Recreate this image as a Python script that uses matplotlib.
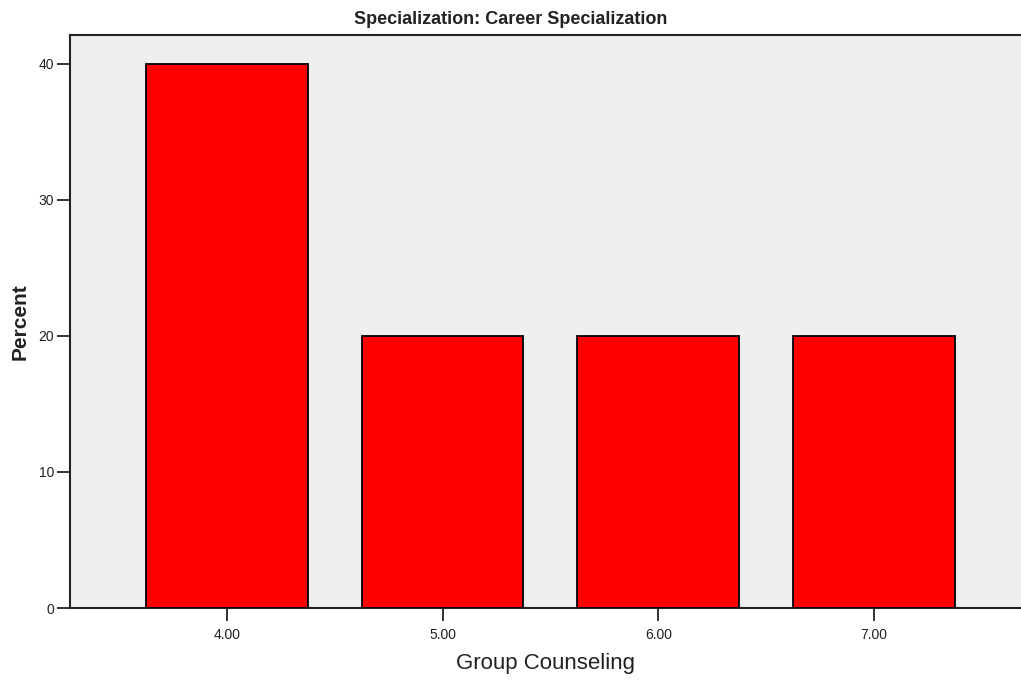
import matplotlib
matplotlib.use('Agg')
import matplotlib.pyplot as plt
from matplotlib import font_manager

# data
categories = ['4.00', '5.00', '6.00', '7.00']
percent = [40, 20, 20, 20]
yticks = [0, 10, 20, 30, 40]

names = {f.name for f in font_manager.fontManager.ttflist}
narrow = 'Liberation Sans Narrow' if 'Liberation Sans Narrow' in names else 'Liberation Sans'
plt.rcParams['font.family'] = [narrow, 'DejaVu Sans']

fig = plt.figure(figsize=(10.21, 6.85), dpi=100)
ax = fig.add_axes([70/1021, 1-608/685, 1-70/1021, (608-35)/685])
ax.set_facecolor('#efefef')

x = range(len(categories))
ax.bar(x, percent, width=0.75, color='#ff0000', edgecolor='black', linewidth=1.3, zorder=3)

ax.set_xlim(-0.726, 3.68)
ax.set_ylim(0, 42.13)
ax.set_xticks(list(x))
ax.set_xticklabels(categories, fontsize=10)
ax.set_yticks(yticks)
ax.set_yticklabels([str(v) for v in yticks], fontsize=10)
ax.tick_params(axis='both', direction='out', length=9.5, width=1.3, color='#222222', labelcolor='#222222')
ax.tick_params(axis='x', pad=5)
ax.tick_params(axis='y', pad=2)

ax.spines['right'].set_visible(False)
for s in ['left', 'bottom', 'top']:
    ax.spines[s].set_linewidth(1.5)
    ax.spines[s].set_color('#222222')

ax.set_xlabel('Group Counseling', fontsize=16, labelpad=8, color='#222222')
ax.set_ylabel('Percent', fontsize=15, fontweight='bold', labelpad=6, color='#222222')
fig.text(0.5, 1-20/685, 'Specialization: Career Specialization', ha='center', va='center',
         fontsize=13, fontweight='bold', color='#222222')

fig.savefig('out.png', dpi=100, facecolor='white')
